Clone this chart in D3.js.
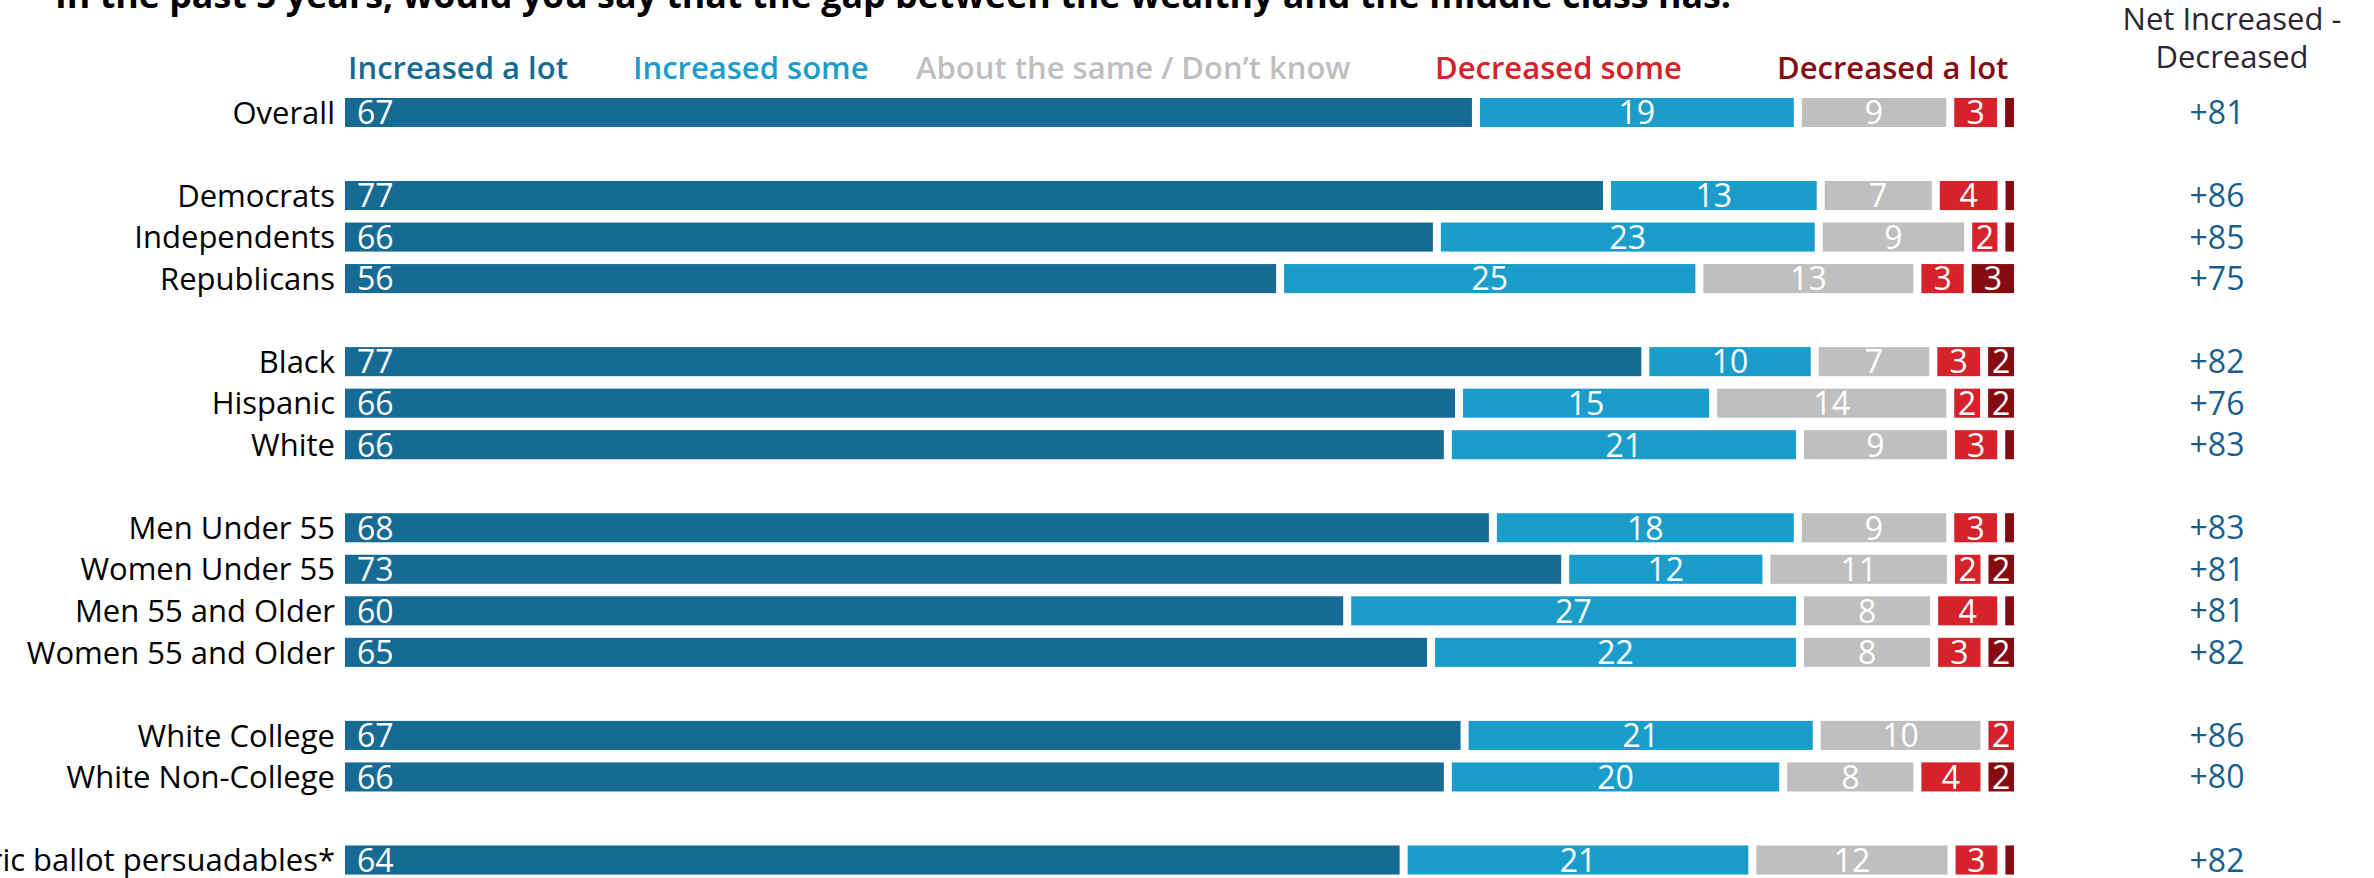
<!DOCTYPE html>
<html>
<head>
<meta charset="utf-8">
<script src="https://cdn.jsdelivr.net/npm/d3@7"></script>
<style>
  html, body { margin: 0; padding: 0; background: #ffffff; }
  svg { display: block; font-family: "Open Sans", "Noto Sans", sans-serif; }
</style>
</head>
<body>
<script>
// Survey groups, in display order
const categories = [
  "Overall",
  "Democrats", "Independents", "Republicans",
  "Black", "Hispanic", "White",
  "Men Under 55", "Women Under 55", "Men 55 and Older", "Women 55 and Older",
  "White College", "White Non-College",
  "Generic ballot persuadables*"
];
// which block each group belongs to (blocks are separated by an empty row)
const groupBlock = [0, 1, 1, 1, 2, 2, 2, 3, 3, 3, 3, 4, 4, 5];

// Responses (%)
const increasedALot   = [67, 77, 66, 56, 77, 66, 66, 68, 73, 60, 65, 67, 66, 64];
const increasedSome   = [19, 13, 23, 25, 10, 15, 21, 18, 12, 27, 22, 21, 20, 21];
const aboutTheSame    = [ 9,  7,  9, 13,  7, 14,  9,  9, 11,  8,  8, 10,  8, 12];
const decreasedSome   = [ 3,  4,  2,  3,  3,  2,  3,  3,  2,  4,  3,  2,  4,  3];
const decreasedALot   = [ 1,  1,  1,  3,  2,  2,  1,  1,  2,  1,  2,  0,  2,  1];
const netIncreased    = ["+81", "+86", "+85", "+75", "+82", "+76", "+83", "+83", "+81", "+81", "+82", "+86", "+80", "+82"];

const seriesNames = ["Increased a lot", "Increased some", "About the same / Don\u2019t know", "Decreased some", "Decreased a lot"];
const seriesKeys  = ["incLot", "incSome", "same", "decSome", "decLot"];
const seriesColors = ["#156b93", "#1b9dcc", "#bfbfbf", "#d5222b", "#870c11"];

const titleText = "In the past 5 years, would you say that the gap between the wealthy and the middle class has:";
const netHeader = ["Net Increased -", "Decreased"];

// ---- layout ----
const W = 2374, H = 878;
const barLeft = 341, barRight = 2018;   // full 100% span
const gap = 4;                          // half of the white gap between segments
const legendX = [348, 633, 916, 1435, 1777];
const netX = 2217, netHeaderX = 2232;

const rows = categories.map((c, i) => ({
  name: c,
  slot: i + groupBlock[i],
  incLot: increasedALot[i],
  incSome: increasedSome[i],
  same: aboutTheSame[i],
  decSome: decreasedSome[i],
  decLot: decreasedALot[i],
  net: netIncreased[i]
}));

const nSlots = d3.max(rows, d => d.slot) + 1;

const y = d3.scaleBand()
  .domain(d3.range(nSlots))
  .range([91.7, 91.7 + nSlots * 41.53])
  .paddingInner(0.3)
  .paddingOuter(0.15);

const x = d3.scaleLinear().domain([0, 1]).range([barLeft, barRight]);

const stacked = d3.stack()
  .keys(seriesKeys)
  .offset(d3.stackOffsetExpand)(rows);

const svg = d3.select("body").append("svg")
  .attr("width", W)
  .attr("height", H)
  .attr("viewBox", `0 0 ${W} ${H}`);

// title (runs off the top edge)
svg.append("text")
  .attr("x", 55)
  .attr("y", 8)
  .attr("font-size", 35.8)
  .attr("font-weight", 700)
  .attr("fill", "#000")
  .text(titleText);

// legend
svg.append("g").selectAll("text")
  .data(seriesNames)
  .join("text")
  .attr("x", (d, i) => legendX[i])
  .attr("y", 79)
  .attr("font-size", 31)
  .attr("font-weight", 600)
  .attr("fill", (d, i) => seriesColors[i])
  .text(d => d);

// net column header
svg.append("g").selectAll("text")
  .data(netHeader)
  .join("text")
  .attr("x", netHeaderX)
  .attr("y", (d, i) => 30 + i * 38)
  .attr("text-anchor", "middle")
  .attr("font-size", 31)
  .attr("font-weight", 500)
  .attr("fill", "#2b2633")
  .text(d => d);

// category labels
svg.append("g").selectAll("text")
  .data(rows)
  .join("text")
  .attr("x", 335)
  .attr("y", d => y(d.slot) + y.bandwidth() / 2)
  .attr("dy", "0.36em")
  .attr("text-anchor", "end")
  .attr("font-size", 31)
  .attr("font-weight", 500)
  .attr("fill", "#000")
  .text(d => d.name);

// stacked segments
const layers = svg.append("g").selectAll("g")
  .data(stacked)
  .join("g")
  .attr("fill", (d, i) => seriesColors[i]);

layers.selectAll("rect")
  .data(d => d.filter(s => s.data[d.key] > 0))
  .join("rect")
  .attr("x", s => x(s[0]) + gap)
  .attr("y", s => y(s.data.slot))
  .attr("width", s => Math.max(0, x(s[1]) - x(s[0]) - 2 * gap))
  .attr("height", y.bandwidth());

// value labels inside segments (first series left-aligned, others centred)
layers.each(function(layer, li) {
  d3.select(this).selectAll("text")
    .data(layer.filter(s => s.data[layer.key] >= 2))
    .join("text")
    .attr("x", s => li === 0 ? x(s[0]) + gap + 12 : (x(s[0]) + x(s[1])) / 2)
    .attr("y", s => y(s.data.slot) + y.bandwidth() / 2)
    .attr("dy", "0.37em")
    .attr("text-anchor", li === 0 ? "start" : "middle")
    .attr("font-size", 32)
    .attr("font-weight", 500)
    .attr("fill", "#ffffff")
    .text(s => s.data[layer.key]);
});

// net column values
svg.append("g").selectAll("text")
  .data(rows)
  .join("text")
  .attr("x", netX)
  .attr("y", d => y(d.slot) + y.bandwidth() / 2)
  .attr("dy", "0.36em")
  .attr("text-anchor", "middle")
  .attr("font-size", 32)
  .attr("font-weight", 500)
  .attr("fill", "#165f8c")
  .text(d => d.net);
</script>
</body>
</html>
